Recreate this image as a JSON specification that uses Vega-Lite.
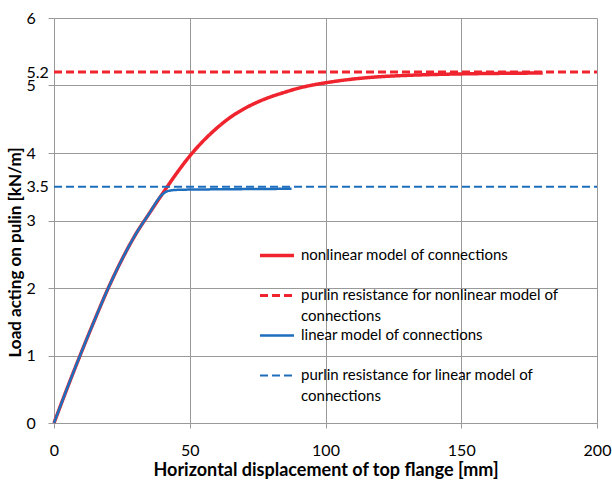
{
  "$schema": "https://vega.github.io/schema/vega-lite/v6.json",
  "width": 543,
  "height": 405,
  "autosize": {"type": "none"},
  "padding": {"left": 54, "top": 18, "right": 15, "bottom": 58},
  "background": "white",
  "config": {"view": {"stroke": null}, "font": "Lato"},
  "data": {
    "values": [
      {"series": "nonlinear model of connections", "x": 0, "y": 0},
      {"series": "nonlinear model of connections", "x": 5, "y": 0.53},
      {"series": "nonlinear model of connections", "x": 10, "y": 1.04},
      {"series": "nonlinear model of connections", "x": 15, "y": 1.53},
      {"series": "nonlinear model of connections", "x": 20, "y": 2.0},
      {"series": "nonlinear model of connections", "x": 25, "y": 2.42},
      {"series": "nonlinear model of connections", "x": 30, "y": 2.79},
      {"series": "nonlinear model of connections", "x": 35, "y": 3.1},
      {"series": "nonlinear model of connections", "x": 39.5, "y": 3.37},
      {"series": "nonlinear model of connections", "x": 45, "y": 3.69},
      {"series": "nonlinear model of connections", "x": 50, "y": 3.955},
      {"series": "nonlinear model of connections", "x": 55, "y": 4.18},
      {"series": "nonlinear model of connections", "x": 60, "y": 4.37},
      {"series": "nonlinear model of connections", "x": 65, "y": 4.53},
      {"series": "nonlinear model of connections", "x": 70, "y": 4.655},
      {"series": "nonlinear model of connections", "x": 75, "y": 4.755},
      {"series": "nonlinear model of connections", "x": 80, "y": 4.835},
      {"series": "nonlinear model of connections", "x": 85, "y": 4.9},
      {"series": "nonlinear model of connections", "x": 90, "y": 4.96},
      {"series": "nonlinear model of connections", "x": 95, "y": 5.005},
      {"series": "nonlinear model of connections", "x": 100, "y": 5.04},
      {"series": "nonlinear model of connections", "x": 105, "y": 5.07},
      {"series": "nonlinear model of connections", "x": 110, "y": 5.095},
      {"series": "nonlinear model of connections", "x": 120, "y": 5.13},
      {"series": "nonlinear model of connections", "x": 130, "y": 5.15},
      {"series": "nonlinear model of connections", "x": 140, "y": 5.163},
      {"series": "nonlinear model of connections", "x": 150, "y": 5.172},
      {"series": "nonlinear model of connections", "x": 165, "y": 5.18},
      {"series": "nonlinear model of connections", "x": 180, "y": 5.185},
      {"series": "linear model of connections", "x": 0, "y": 0},
      {"series": "linear model of connections", "x": 5, "y": 0.53},
      {"series": "linear model of connections", "x": 10, "y": 1.04},
      {"series": "linear model of connections", "x": 15, "y": 1.53},
      {"series": "linear model of connections", "x": 20, "y": 2.0},
      {"series": "linear model of connections", "x": 25, "y": 2.42},
      {"series": "linear model of connections", "x": 30, "y": 2.79},
      {"series": "linear model of connections", "x": 35, "y": 3.1},
      {"series": "linear model of connections", "x": 39.5, "y": 3.37},
      {"series": "linear model of connections", "x": 41, "y": 3.42},
      {"series": "linear model of connections", "x": 43, "y": 3.445},
      {"series": "linear model of connections", "x": 46, "y": 3.455},
      {"series": "linear model of connections", "x": 55, "y": 3.46},
      {"series": "linear model of connections", "x": 70, "y": 3.465},
      {"series": "linear model of connections", "x": 87.5, "y": 3.47},
      {"series": "purlin resistance for nonlinear model of connections", "x": 0, "y": 5.2},
      {"series": "purlin resistance for nonlinear model of connections", "x": 200, "y": 5.2},
      {"series": "purlin resistance for linear model of connections", "x": 0, "y": 3.5},
      {"series": "purlin resistance for linear model of connections", "x": 200, "y": 3.5}
    ]
  },
  "encoding": {
    "x": {
      "field": "x",
      "type": "quantitative",
      "scale": {"domain": [0, 200], "nice": false},
      "axis": {
        "values": [0, 50, 100, 150, 200],
        "title": "Horizontal displacement of top flange [mm]",
        "titleFontSize": 18,
        "titleFontWeight": "bold",
        "titleColor": "#000",
        "titlePadding": 3,
        "labelFontSize": 16,
        "labelColor": "#000",
        "labelPadding": 14,
        "labelFlush": false,
        "labelOverlap": false,
        "tickSize": 5,
        "tickColor": "#999",
        "domainColor": "#999",
        "gridColor": "#999"
      }
    },
    "y": {
      "field": "y",
      "type": "quantitative",
      "scale": {"domain": [0, 6], "nice": false},
      "axis": {
        "values": [0, 1, 2, 3, 3.5, 4, 5, 5.2, 6],
        "format": "~g",
        "title": "Load acting on pulin [kN/m]",
        "titleFontSize": 17,
        "titleFontWeight": "bold",
        "titleColor": "#000",
        "titlePadding": 2,
        "titleY": 234,
        "labelFontSize": 16,
        "labelColor": "#000",
        "labelAlign": "left",
        "labelPadding": 22,
        "labelFlush": false,
        "labelOverlap": false,
        "labelBound": false,
        "tickSize": 6,
        "tickColor": {"condition": {"test": "datum.value == 3.5 || datum.value == 5.2", "value": "transparent"}, "value": "#999"},
        "gridColor": {"condition": {"test": "datum.value == 3.5 || datum.value == 5.2", "value": "transparent"}, "value": "#999"},
        "domainColor": "#999"
      }
    },
    "color": {
      "field": "series",
      "type": "nominal",
      "scale": {
        "domain": ["nonlinear model of connections", "purlin resistance for nonlinear model of connections", "linear model of connections", "purlin resistance for linear model of connections"],
        "range": ["#F0242E", "#F0242E", "#1E6EBE", "#1E6EBE"]
      },
      "legend": {
        "orient": "none",
        "legendX": 204,
        "legendY": 227,
        "title": null,
        "padding": 0,
        "symbolType": "stroke",
        "symbolSize": 1156,
        "labelFontSize": 15,
        "labelColor": "#000",
        "labelLimit": 400,
        "labelOffset": 5,
        "labelBaseline": "line-top",
        "gridAlign": "all",
        "rowPadding": 1,
        "labelExpr": "indexof(datum.label,'purlin')==0 ? [slice(datum.label,0,lastindexof(datum.label,' ')), 'connections'] : datum.label",
        "encode": {
          "symbols": {"update": {"y": {"value": 10.5}}},
          "labels": {"update": {"y": {"value": 10.5}, "dy": {"value": -10.5}, "lineHeight": {"value": 21}}}
        }
      }
    },
    "strokeDash": {
      "field": "series",
      "type": "nominal",
      "scale": {
        "domain": ["nonlinear model of connections", "purlin resistance for nonlinear model of connections", "linear model of connections", "purlin resistance for linear model of connections"],
        "range": [[1, 0], [8, 4], [1, 0], [8, 4]]
      }
    },
    "strokeWidth": {
      "field": "series",
      "type": "nominal",
      "scale": {
        "domain": ["nonlinear model of connections", "purlin resistance for nonlinear model of connections", "linear model of connections", "purlin resistance for linear model of connections"],
        "range": [3.5, 2, 3.5, 2]
      }
    }
  },
  "layer": [
    {
      "transform": [{"filter": "datum.series != 'linear model of connections'"}],
      "mark": {"type": "line", "interpolate": "monotone"}
    },
    {
      "transform": [{"filter": "datum.series == 'linear model of connections'"}],
      "mark": {"type": "line", "interpolate": "monotone"}
    }
  ]
}
